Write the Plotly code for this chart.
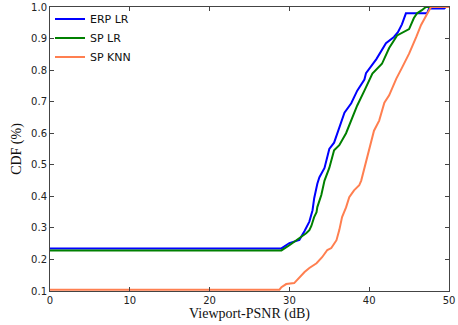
import plotly.graph_objects as go

erp_lr_x = [0, 29, 30, 31.25, 31.9, 32.5, 32.9, 33.1, 33.5, 33.75, 34.4, 35, 35.6, 36.25, 36.9, 37.75, 38.5, 39.4, 39.6, 40.9, 42.1, 43.1, 43.6, 44.1, 44.6, 47.25, 47.5, 49.4, 49.6, 50]
erp_lr_y = [0.235, 0.235, 0.252, 0.262, 0.29, 0.32, 0.356, 0.393, 0.44, 0.46, 0.49, 0.55, 0.57, 0.615, 0.665, 0.695, 0.735, 0.77, 0.79, 0.835, 0.885, 0.905, 0.92, 0.945, 0.98, 0.98, 0.995, 0.995, 1.0, 1.0]

sp_lr_x = [0, 29, 30, 31.25, 32.1, 32.5, 32.75, 33.1, 33.4, 33.5, 34, 34.4, 35, 35.6, 36.25, 37.1, 37.75, 38.5, 39.4, 40.4, 41.6, 42.5, 43.5, 45, 45.6, 46, 46.6, 47.1, 50]
sp_lr_y = [0.2285, 0.2285, 0.245, 0.267, 0.283, 0.293, 0.306, 0.334, 0.35, 0.366, 0.404, 0.45, 0.49, 0.546, 0.562, 0.6, 0.644, 0.688, 0.735, 0.789, 0.82, 0.87, 0.91, 0.93, 0.965, 0.98, 0.99, 1.0, 1.0]

sp_knn_x = [0, 28.75, 29, 29.6, 30.6, 31.25, 31.9, 32.5, 33.4, 34.1, 34.75, 35.25, 35.9, 36.25, 36.6, 37.1, 37.5, 38.1, 38.75, 39, 39.4, 40, 40.6, 41.25, 41.9, 42.5, 43.4, 44.1, 45, 45.9, 46.5, 47.25, 47.75, 50]
sp_knn_y = [0.104, 0.104, 0.112, 0.122, 0.125, 0.144, 0.16, 0.173, 0.188, 0.207, 0.23, 0.236, 0.261, 0.293, 0.334, 0.365, 0.397, 0.419, 0.435, 0.45, 0.49, 0.555, 0.608, 0.64, 0.697, 0.72, 0.773, 0.807, 0.852, 0.905, 0.943, 0.978, 1.0, 1.0]

x_ticks = [0, 10, 20, 30, 40, 50]
y_ticks = [0.1, 0.2, 0.3, 0.4, 0.5, 0.6, 0.7, 0.8, 0.9, 1.0]

fig = go.Figure()
fig.add_trace(go.Scatter(x=erp_lr_x, y=erp_lr_y, mode="lines", name="ERP LR",
                         line=dict(color="#0000ff", width=2)))
fig.add_trace(go.Scatter(x=sp_lr_x, y=sp_lr_y, mode="lines", name="SP LR",
                         line=dict(color="#008000", width=2)))
fig.add_trace(go.Scatter(x=sp_knn_x, y=sp_knn_y, mode="lines", name="SP KNN",
                         line=dict(color="#ff7f50", width=2)))

serif = "Times New Roman, Liberation Serif, serif"
axis_common = dict(showgrid=False, zeroline=False, showline=True, linecolor="#444",
                   linewidth=1, mirror="ticks", ticks="inside", ticklen=4,
                   tickcolor="#444", automargin=False,
                   tickfont=dict(family="DejaVu Sans", size=10, color="#222"))

fig.update_layout(
    width=458, height=325,
    margin=dict(l=50, r=9, t=6, b=34),
    paper_bgcolor="white", plot_bgcolor="white",
    showlegend=True,
    legend=dict(x=0.0, y=1.005, xanchor="left", yanchor="top",
                font=dict(family="DejaVu Sans", size=11, color="#111"),
                bgcolor="rgba(0,0,0,0)", tracegroupgap=0, itemwidth=30),
    xaxis=dict(range=[0, 50], tickvals=x_ticks,
               title=dict(text="Viewport-PSNR (dB)", font=dict(family=serif, size=14, color="#111"), standoff=2),
               **axis_common),
    yaxis=dict(range=[0.1, 1.0], tickvals=y_ticks, tickformat=".1f",
               title=dict(text="CDF (%)", font=dict(family=serif, size=14, color="#111"), standoff=6),
               **axis_common),
)

fig.write_html("out.html", config={"displayModeBar": False},
               post_script="document.body.style.margin='0px';")
